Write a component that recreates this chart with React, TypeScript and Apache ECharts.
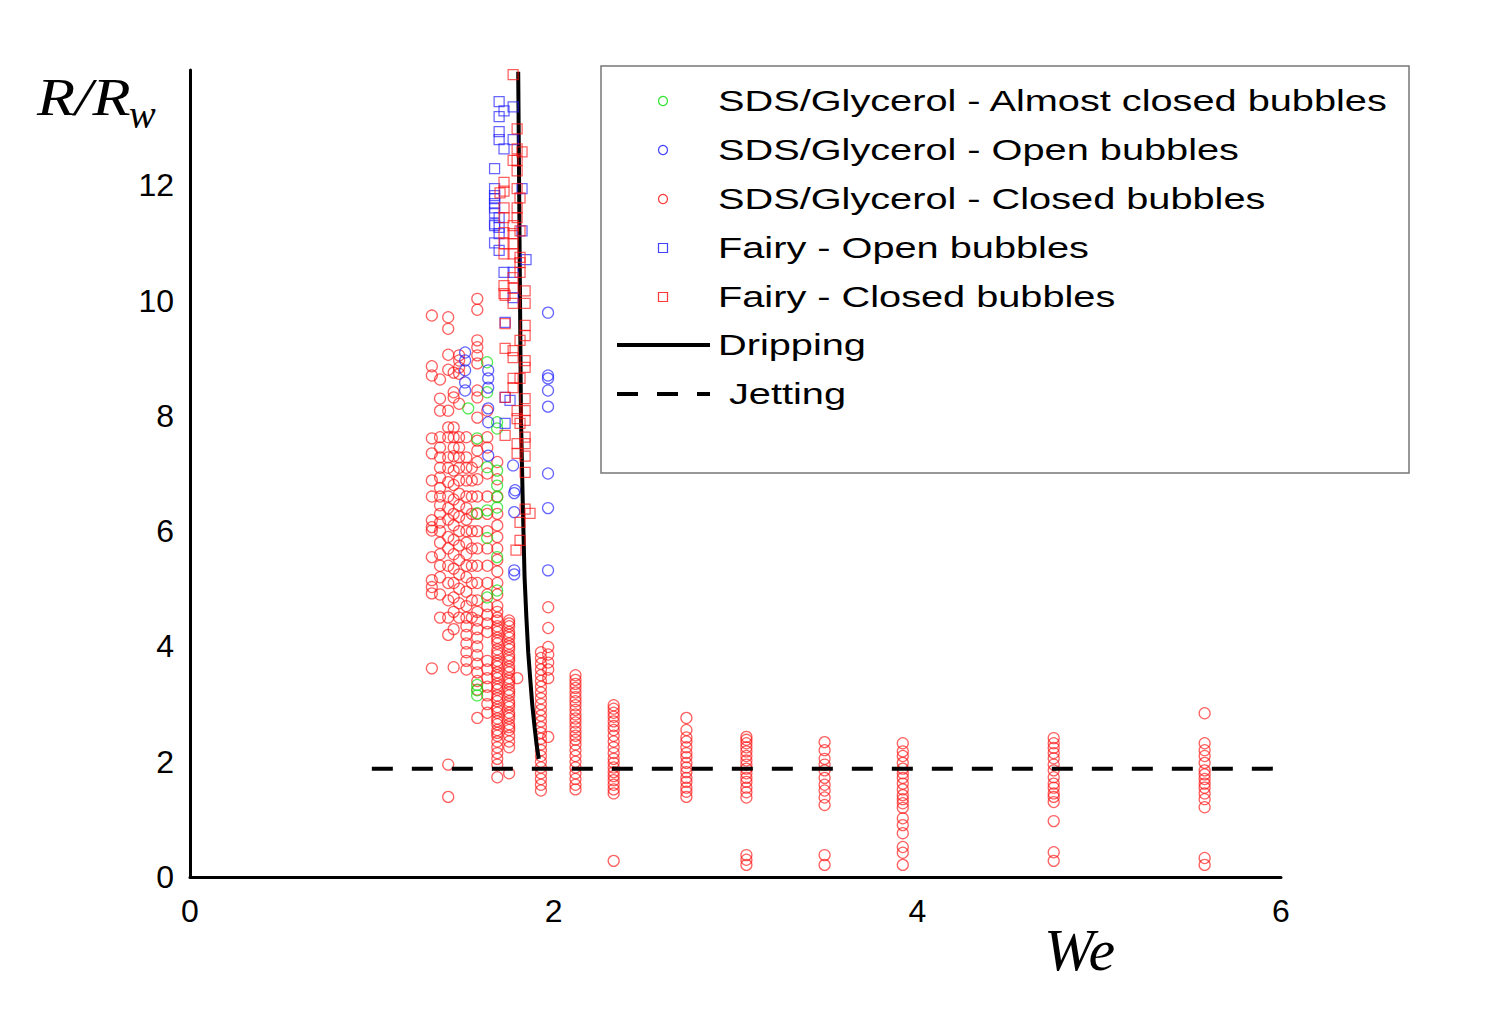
import React, { useEffect, useRef } from "react";
import * as echarts from "echarts";

// ---- axis ranges / ticks ----
const weRange = [0, 6];
const rRange = [0, 14];
const weInterval = 2;
const rInterval = 2;
const rHiddenTick = 14;

// ---- legend labels ----
const legendLabels = [
  "SDS/Glycerol - Almost closed bubbles",
  "SDS/Glycerol - Open bubbles",
  "SDS/Glycerol - Closed bubbles",
  "Fairy - Open bubbles",
  "Fairy - Closed bubbles",
  "Dripping",
  "Jetting",
];

// ---- SDS/Glycerol closed bubbles (red circles), grouped by We column ----
const sdsClosedCols: [number, number[]][] = [
  [1.33, [9.74, 8.86, 8.7, 7.61, 7.35, 6.88, 6.6, 6.19, 6.07, 6.01, 5.55, 5.15, 5.03, 4.92, 3.62]],
  [1.375, [8.63, 8.3, 8.09, 7.63, 7.45, 7.28, 7.1, 6.93, 6.75, 6.6, 6.45, 6.3, 6.15, 6.0, 5.8, 5.6, 5.4, 5.2, 4.9, 4.5]],
  [1.42, [9.71, 9.51, 9.06, 8.8, 8.09, 7.8, 7.63, 7.28, 7.1, 6.85, 6.6, 6.4, 6.2, 5.9, 5.7, 5.4, 5.1, 4.8, 4.5, 4.2, 1.95, 1.39]],
  [1.45, [8.75, 8.41, 8.32, 7.8, 7.63, 7.45, 7.3, 7.05, 6.8, 6.55, 6.3, 6.1, 5.85, 5.6, 5.35, 5.1, 4.85, 4.6, 4.3, 3.64]],
  [1.48, [9.05, 8.96, 8.84, 8.73, 8.21, 7.63, 7.45, 7.28, 7.1, 6.88, 6.65, 6.45, 6.25, 6.0, 5.75, 5.5, 5.25, 5.0, 4.75, 4.5]],
  [1.52, [7.63, 7.28, 7.1, 6.88, 6.6, 6.4, 6.2, 6.0, 5.8, 5.6, 5.4, 5.2, 4.95, 4.7, 4.5, 4.35, 4.2, 4.05, 3.9, 3.75, 3.6]],
  [1.55, [7.1, 6.88, 6.6, 6.3, 6.0, 5.7, 5.4, 5.1, 4.8, 4.5]],
  [1.58, [10.03, 9.84, 9.31, 9.19, 9.05, 8.91, 8.44, 8.32, 7.97, 7.57, 7.4, 7.2, 6.9, 6.6, 6.3, 6.0, 5.7, 5.4, 5.1, 4.8, 4.6, 4.45, 4.3, 4.15, 4.0, 3.85, 3.7, 3.55, 3.4, 3.25, 2.76]],
  [1.635, [8.09, 7.63, 7.45, 7.0, 6.6, 6.3, 6.0, 5.7, 5.4, 5.1, 4.9, 4.7, 4.55, 4.4, 4.25, 3.75, 3.6, 3.45, 3.3, 3.15, 3.0, 2.85]],
  [1.69, [7.2, 6.9, 6.6, 6.3, 6.1, 5.9, 5.7, 5.5, 5.3, 5.1, 4.9, 4.7, 4.6, 4.5, 4.45, 4.35, 4.3, 4.25, 4.15, 4.1, 4.05, 3.95, 3.9, 3.85, 3.75, 3.7, 3.65, 3.55, 3.5, 3.45, 3.35, 3.3, 3.25, 3.15, 3.1, 3.05, 2.95, 2.9, 2.85, 2.75, 2.7, 2.65, 2.55, 2.5, 2.45, 2.35, 2.25, 2.15, 2.05, 1.95, 1.73]],
  [1.755, [4.45, 4.4, 4.35, 4.25, 4.2, 4.15, 4.05, 4.0, 3.95, 3.85, 3.8, 3.75, 3.65, 3.6, 3.55, 3.45, 3.4, 3.35, 3.25, 3.2, 3.15, 3.05, 3.0, 2.95, 2.85, 2.8, 2.75, 2.65, 2.6, 2.55, 2.45, 2.35, 2.25, 1.8]],
  [1.8, [3.45]],
  [1.93, [3.9, 3.8, 3.7, 3.6, 3.5, 3.4, 3.3, 3.2, 3.1, 3.0, 2.9, 2.8, 2.7, 2.6, 2.5, 2.4, 2.3, 2.2, 2.1, 2.0, 1.9, 1.8, 1.7, 1.6, 1.5]],
  [1.97, [4.68, 4.32, 3.99, 3.86, 3.72, 3.6, 3.45, 2.43]],
  [2.12, [3.5, 3.42, 3.35, 3.28, 3.2, 3.12, 3.05, 2.98, 2.9, 2.82, 2.75, 2.68, 2.6, 2.52, 2.45, 2.38, 2.3, 2.2, 2.1, 2.0, 1.9, 1.8, 1.7, 1.6, 1.52]],
  [2.33, [2.98, 2.92, 2.85, 2.78, 2.7, 2.62, 2.55, 2.45, 2.35, 2.25, 2.15, 2.05, 1.98, 1.9, 1.82, 1.75, 1.68, 1.6, 1.52, 1.45, 0.28]],
  [2.73, [2.76, 2.55, 2.42, 2.35, 2.25, 2.15, 2.08, 1.98, 1.9, 1.82, 1.72, 1.65, 1.55, 1.48, 1.39]],
  [3.06, [2.43, 2.38, 2.32, 2.25, 2.18, 2.1, 2.02, 1.95, 1.88, 1.8, 1.72, 1.65, 1.55, 1.47, 1.38, 0.38, 0.3, 0.21]],
  [3.49, [2.34, 2.2, 2.05, 1.95, 1.85, 1.72, 1.6, 1.5, 1.38, 1.25, 0.38, 0.21]],
  [3.92, [2.32, 2.18, 2.1, 1.98, 1.88, 1.8, 1.72, 1.62, 1.52, 1.42, 1.35, 1.28, 1.2, 1.02, 0.9, 0.76, 0.52, 0.42, 0.21]],
  [4.75, [2.41, 2.32, 2.24, 2.15, 2.06, 1.95, 1.85, 1.73, 1.62, 1.55, 1.45, 1.39, 1.3, 0.97, 0.43, 0.28]],
  [5.58, [2.84, 2.32, 2.2, 2.1, 1.98, 1.85, 1.78, 1.7, 1.62, 1.55, 1.45, 1.35, 1.21, 0.33, 0.21]],
];

// ---- SDS/Glycerol open bubbles (blue circles) [We, R] ----
const sdsOpen: [number, number][] = [
  [1.513, 9.1], [1.513, 8.96], [1.513, 8.79], [1.513, 8.58], [1.513, 8.44],
  [1.64, 8.79], [1.64, 8.65], [1.64, 8.49], [1.64, 8.13], [1.64, 7.89], [1.64, 7.31],
  [1.777, 7.14], [1.788, 6.71], [1.783, 6.66], [1.783, 6.33], [1.783, 5.32], [1.783, 5.25],
  [1.969, 9.79], [1.969, 8.7], [1.969, 8.65], [1.969, 8.44], [1.969, 8.16],
  [1.969, 7.0], [1.969, 6.4], [1.969, 5.32],
];

// ---- SDS/Glycerol almost closed bubbles (green circles) [We, R] ----
const sdsAlmost: [number, number][] = [
  [1.53, 8.13], [1.634, 8.93], [1.634, 8.41], [1.689, 7.89], [1.689, 7.78],
  [1.579, 7.61], [1.634, 7.11], [1.689, 7.05], [1.689, 6.79], [1.689, 6.59],
  [1.689, 6.41], [1.634, 6.36], [1.579, 6.31], [1.634, 5.88], [1.689, 5.55],
  [1.689, 4.97], [1.634, 4.85], [1.579, 3.33], [1.579, 3.24], [1.579, 3.15],
];

// ---- Fairy open bubbles (blue squares) [We, R] ----
const fairyOpen: [number, number][] = [
  [1.7, 13.45], [1.727, 13.29], [1.7, 13.19], [1.777, 13.36], [1.7, 12.93], [1.7, 12.79],
  [1.727, 12.63], [1.777, 12.79], [1.675, 12.29], [1.675, 11.94], [1.675, 11.82],
  [1.675, 11.77], [1.675, 11.68], [1.675, 11.61], [1.675, 11.52], [1.7, 11.44],
  [1.675, 11.33], [1.675, 11.3], [1.7, 11.27], [1.7, 11.16], [1.675, 11.0], [1.7, 10.87],
  [1.727, 10.49], [1.777, 10.49], [1.848, 10.71], [1.826, 11.94], [1.826, 11.21],
  [1.777, 10.05], [1.733, 9.62], [1.733, 8.32], [1.76, 8.27], [1.733, 7.87],
];

// ---- Fairy closed bubbles (red squares) [We, R] ----
const fairyClosed: [number, number][] = [
  [1.777, 13.92], [1.799, 12.98], [1.799, 12.63], [1.826, 12.58], [1.777, 12.43], [1.799, 12.43],
  [1.799, 12.25], [1.727, 12.05], [1.705, 11.87], [1.727, 11.9], [1.799, 11.94], [1.815, 11.78],
  [1.799, 11.61], [1.727, 11.61], [1.727, 11.44], [1.799, 11.44], [1.777, 11.3], [1.815, 11.21],
  [1.727, 11.18], [1.777, 11.16], [1.727, 10.99], [1.777, 10.99], [1.727, 10.81], [1.777, 10.81],
  [1.815, 10.75], [1.815, 10.66], [1.815, 10.49], [1.777, 10.4], [1.727, 10.26], [1.777, 10.21],
  [1.843, 10.17], [1.727, 10.12], [1.777, 9.95], [1.843, 9.95], [1.733, 10.09], [1.733, 9.6],
  [1.843, 9.57], [1.843, 9.39], [1.733, 9.17], [1.777, 9.13], [1.815, 9.31], [1.843, 8.96],
  [1.777, 9.01], [1.843, 8.84], [1.777, 8.65], [1.777, 8.49], [1.815, 8.65], [1.733, 8.32],
  [1.843, 8.3], [1.799, 8.09], [1.843, 8.09], [1.799, 7.95], [1.843, 7.92], [1.815, 7.87],
  [1.733, 7.66], [1.843, 7.63], [1.799, 7.52], [1.843, 7.52], [1.799, 7.35], [1.843, 7.3],
  [1.843, 7.02], [1.843, 6.38], [1.87, 6.31], [1.815, 6.15], [1.815, 5.84], [1.793, 5.67],
];

// ---- Dripping boundary (solid line) [We, R] ----
const dripping: [number, number][] = [
  [1.805, 13.97], [1.81, 12], [1.815, 10], [1.82, 8], [1.83, 6.5], [1.84, 5.2],
  [1.85, 4.5], [1.86, 3.9], [1.872, 3.4], [1.882, 3.0], [1.895, 2.6], [1.906, 2.3], [1.918, 2.05],
];

// ---- Jetting boundary (dashed line) [We, R] ----
const jetting: [number, number][] = [
  [1.0, 1.88],
  [6.0, 1.88],
];

const RED = "rgba(255,20,20,0.85)";
const BLUE = "rgba(30,30,255,0.85)";
const GREEN = "rgba(20,225,20,0.9)";

function buildOption(): echarts.EChartsOption {
  const sdsClosed = sdsClosedCols.flatMap(([we, rs]) => rs.map((r) => [we, r]));
  const hollow = (c: string) => ({ color: "rgba(255,255,255,0)", borderColor: c, borderWidth: 1.25 });

  const legendY = [101, 150, 199, 248, 297, 345, 394];
  const legendTextX = [718, 718, 718, 718, 718, 718, 729];
  const textStretch = 1.37;

  const graphic: any[] = [
    {
      type: "rect",
      shape: { x: 601, y: 66, width: 808, height: 407 },
      style: { fill: "#fff", stroke: "#777", lineWidth: 1.5 },
      z: 10,
    },
    { type: "circle", shape: { cx: 663, cy: legendY[0], r: 4.5 }, style: { fill: "none", stroke: GREEN, lineWidth: 1.2 }, z: 11 },
    { type: "circle", shape: { cx: 663, cy: legendY[1], r: 4.5 }, style: { fill: "none", stroke: BLUE, lineWidth: 1.2 }, z: 11 },
    { type: "circle", shape: { cx: 663, cy: legendY[2], r: 4.5 }, style: { fill: "none", stroke: RED, lineWidth: 1.2 }, z: 11 },
    { type: "rect", shape: { x: 658.5, y: legendY[3] - 4.5, width: 9, height: 9 }, style: { fill: "none", stroke: BLUE, lineWidth: 1.2 }, z: 11 },
    { type: "rect", shape: { x: 658.5, y: legendY[4] - 4.5, width: 9, height: 9 }, style: { fill: "none", stroke: RED, lineWidth: 1.2 }, z: 11 },
    { type: "line", shape: { x1: 617, y1: legendY[5], x2: 710, y2: legendY[5] }, style: { stroke: "#000", lineWidth: 4 }, z: 11 },
    { type: "line", shape: { x1: 617, y1: legendY[6], x2: 710, y2: legendY[6] }, style: { stroke: "#000", lineWidth: 4, lineDash: [21, 19] }, z: 11 },
    ...legendLabels.map((t, i) => ({
      type: "text",
      x: legendTextX[i],
      y: legendY[i],
      scaleX: textStretch,
      z: 11,
      style: {
        text: t,
        fontSize: 29,
        fontFamily: "Liberation Sans, Arial, sans-serif",
        fill: "#000",
        align: "left",
        verticalAlign: "middle",
      },
    })),
    {
      type: "text",
      x: 37,
      y: 97,
      scaleX: 1.2,
      style: {
        text: "R/R",
        fontSize: 52,
        fontStyle: "italic",
        fontFamily: "Liberation Serif, Times New Roman, serif",
        fill: "#000",
        align: "left",
        verticalAlign: "middle",
      },
    },
    {
      type: "text",
      x: 129,
      y: 114,
      style: {
        text: "w",
        fontSize: 40,
        fontStyle: "italic",
        fontFamily: "Liberation Serif, Times New Roman, serif",
        fill: "#000",
        align: "left",
        verticalAlign: "middle",
      },
    },
    {
      type: "text",
      x: 1044,
      y: 950,
      style: {
        text: "We",
        fontSize: 60,
        fontStyle: "italic",
        fontFamily: "Liberation Serif, Times New Roman, serif",
        fill: "#000",
        align: "left",
        verticalAlign: "middle",
      },
    },
  ];

  return {
    animation: false,
    backgroundColor: "#ffffff",
    grid: { left: 190, top: 70, right: 222, bottom: 148, containLabel: false },
    xAxis: {
      type: "value",
      min: weRange[0],
      max: weRange[1],
      interval: weInterval,
      axisLine: { show: true, onZero: false, lineStyle: { color: "#000", width: 3 } },
      axisTick: { show: false },
      splitLine: { show: false },
      axisLabel: {
        margin: 18,
        fontSize: 32,
        color: "#000",
        fontFamily: "Liberation Sans, Arial, sans-serif",
      },
    },
    yAxis: {
      type: "value",
      min: rRange[0],
      max: rRange[1],
      interval: rInterval,
      axisLine: { show: true, onZero: false, lineStyle: { color: "#000", width: 3 } },
      axisTick: { show: false },
      splitLine: { show: false },
      axisLabel: {
        margin: 16,
        fontSize: 32,
        color: "#000",
        fontFamily: "Liberation Sans, Arial, sans-serif",
        formatter: (v: number) => (v === rHiddenTick ? "" : String(v)),
      },
    },
    series: [
      {
        name: legendLabels[2],
        type: "scatter",
        data: sdsClosed,
        symbol: "circle",
        symbolSize: 11,
        itemStyle: hollow(RED),
        z: 2,
      },
      {
        name: legendLabels[0],
        type: "scatter",
        data: sdsAlmost,
        symbol: "circle",
        symbolSize: 11,
        itemStyle: hollow(GREEN),
        z: 3,
      },
      {
        name: legendLabels[1],
        type: "scatter",
        data: sdsOpen,
        symbol: "circle",
        symbolSize: 11,
        itemStyle: hollow(BLUE),
        z: 3,
      },
      {
        name: legendLabels[5],
        type: "line",
        data: dripping,
        symbol: "none",
        showSymbol: false,
        lineStyle: { color: "#000", width: 4 },
        z: 4,
      },
      {
        name: legendLabels[3],
        type: "scatter",
        data: fairyOpen,
        symbol: "rect",
        symbolSize: 10,
        itemStyle: hollow(BLUE),
        z: 5,
      },
      {
        name: legendLabels[4],
        type: "scatter",
        data: fairyClosed,
        symbol: "rect",
        symbolSize: 10,
        itemStyle: hollow(RED),
        z: 6,
      },
      {
        name: legendLabels[6],
        type: "line",
        data: jetting,
        symbol: "none",
        showSymbol: false,
        lineStyle: { color: "#000", width: 4, type: [21, 19] },
        z: 7,
      },
    ],
    graphic,
  } as any;
}

export default function App() {
  const ref = useRef<HTMLDivElement>(null);
  useEffect(() => {
    if (!ref.current) return;
    const chart = echarts.init(ref.current, undefined, { renderer: "svg" });
    chart.setOption(buildOption());
    return () => chart.dispose();
  }, []);
  return (
    <div
      ref={ref}
      style={{ position: "fixed", left: 0, top: 0, width: 1503, height: 1025, background: "#fff" }}
    />
  );
}
